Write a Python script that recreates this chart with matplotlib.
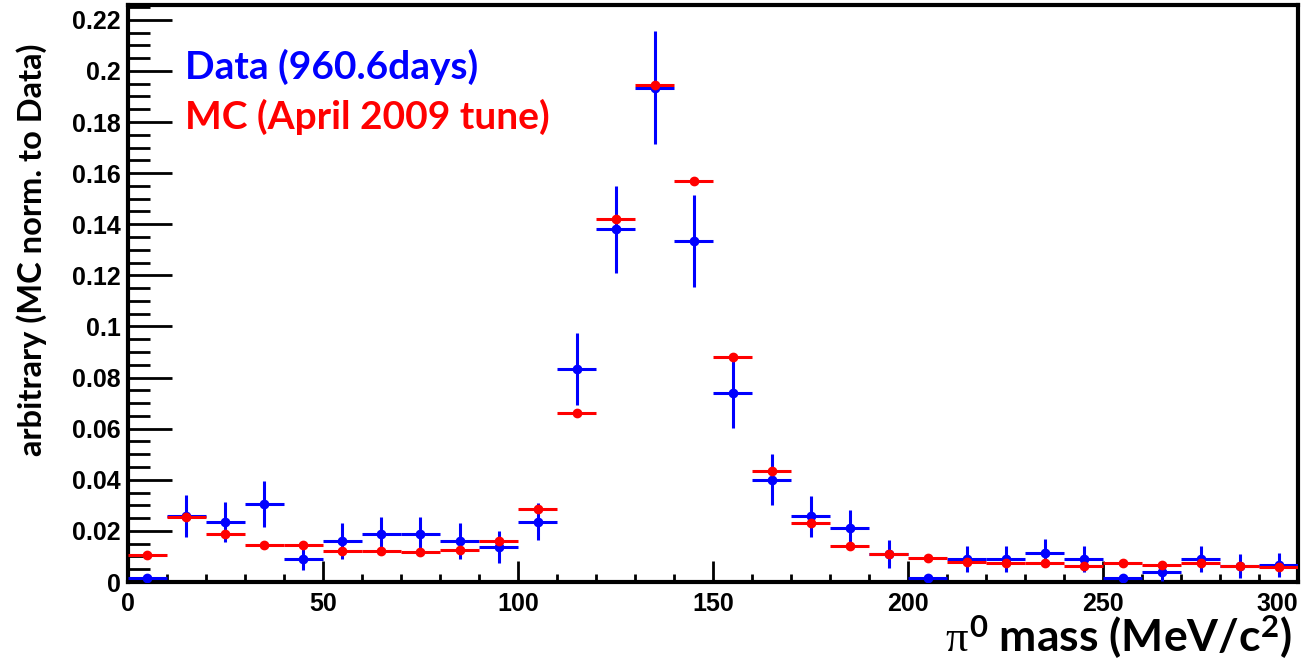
import matplotlib
matplotlib.use("Agg")
import matplotlib.pyplot as plt
import numpy as np

plt.rcParams['mathtext.fontset'] = 'custom'
plt.rcParams['mathtext.it'] = 'Liberation Serif'
plt.rcParams['mathtext.rm'] = 'Lato:bold'
plt.rcParams['mathtext.bf'] = 'Lato:bold'

bin_centers = [5, 15, 25, 35, 45, 55, 65, 75, 85, 95,
               105, 115, 125, 135, 145, 155, 165, 175, 185, 195,
               205, 215, 225, 235, 245, 255, 265, 275, 285, 295]
data_vals = [0.0017, 0.0258, 0.0234, 0.0305, 0.0090, 0.0162, 0.0187, 0.0187, 0.0162, 0.0138,
             0.0236, 0.0834, 0.1380, 0.1935, 0.1335, 0.0740, 0.0400, 0.0258, 0.0213, 0.0110,
             0.0017, 0.0090, 0.0090, 0.0115, 0.0090, 0.0017, 0.0040, 0.0090, 0.0063, 0.0066]
data_errs = [0.0010, 0.0082, 0.0078, 0.0089, 0.0043, 0.0070, 0.0068, 0.0068, 0.0070, 0.0062,
             0.0072, 0.0140, 0.0170, 0.0220, 0.0180, 0.0138, 0.0100, 0.0080, 0.0067, 0.0054,
             0.0010, 0.0051, 0.0051, 0.0054, 0.0051, 0.0010, 0.0035, 0.0051, 0.0047, 0.0047]
mc_vals = [0.0106, 0.0256, 0.0187, 0.0144, 0.0144, 0.0123, 0.0123, 0.0119, 0.0124, 0.0162,
           0.0285, 0.0660, 0.1420, 0.1943, 0.1570, 0.0880, 0.0435, 0.0232, 0.0142, 0.0110,
           0.0093, 0.0077, 0.0073, 0.0073, 0.0064, 0.0073, 0.0066, 0.0073, 0.0063, 0.0057]
bin_half_width = 5

x_ticks = [0, 50, 100, 150, 200, 250, 300]
y_ticks = [0, 0.02, 0.04, 0.06, 0.08, 0.1, 0.12, 0.14, 0.16, 0.18, 0.2, 0.22]
y_tick_labels = ['0', '0.02', '0.04', '0.06', '0.08', '0.1', '0.12', '0.14', '0.16', '0.18', '0.2', '0.22']

fig = plt.figure(figsize=(13.06, 6.67), dpi=100)
ax = fig.add_axes([0.098, 0.1274, 0.8959, 0.8651])

ax.errorbar(bin_centers, data_vals, yerr=data_errs, xerr=bin_half_width,
            fmt='o', color='#0000ff', ms=6, lw=2.2, capsize=0, zorder=3)
ax.errorbar(bin_centers, mc_vals, xerr=bin_half_width,
            fmt='o', color='#ff0000', ms=6, lw=2.2, capsize=0, zorder=4)

ax.set_xlim(0, 300)
ax.set_ylim(0, 0.2258)
ax.set_xticks(x_ticks)
ax.set_yticks(y_ticks)
ax.set_yticklabels(y_tick_labels)
ax.set_xticks(np.arange(0, 301, 10), minor=True)
ax.set_yticks(np.arange(0, 0.2251, 0.005), minor=True)

ax.tick_params(axis='both', which='both', direction='in', width=2, colors='black')
ax.tick_params(axis='x', which='major', length=15, pad=7)
ax.tick_params(axis='x', which='minor', length=6)
ax.tick_params(axis='y', which='major', length=32, pad=5)
ax.tick_params(axis='y', which='minor', length=16)
for lbl in ax.get_xticklabels() + ax.get_yticklabels():
    lbl.set_fontfamily('Liberation Sans')
    lbl.set_fontweight('bold')
    lbl.set_fontsize(18)
ax.get_xticklabels()[-1].set_horizontalalignment('right')
for sp in ax.spines.values():
    sp.set_linewidth(3)
    sp.set_color('black')

fig.text(0.0245, 0.625, 'arbitrary (MC norm. to Data)', rotation=90,
         ha='center', va='center', fontsize=23.5, fontweight='bold', family='Lato')
fig.text(0.989, 0.045, r'$\pi^{0}$ mass (MeV/c$^{2}$)', ha='right', va='center',
         fontsize=32, fontweight='bold', family='Lato')

ax.text(0.0487, 0.8925, 'Data (960.6days)', transform=ax.transAxes, color='#0000ff',
        fontsize=28, fontweight='bold', family='Lato', va='center', ha='left')
ax.text(0.0487, 0.806, 'MC (April 2009 tune)', transform=ax.transAxes, color='#ff0000',
        fontsize=28, fontweight='bold', family='Lato', va='center', ha='left')

fig.savefig('out.png', dpi=100)
